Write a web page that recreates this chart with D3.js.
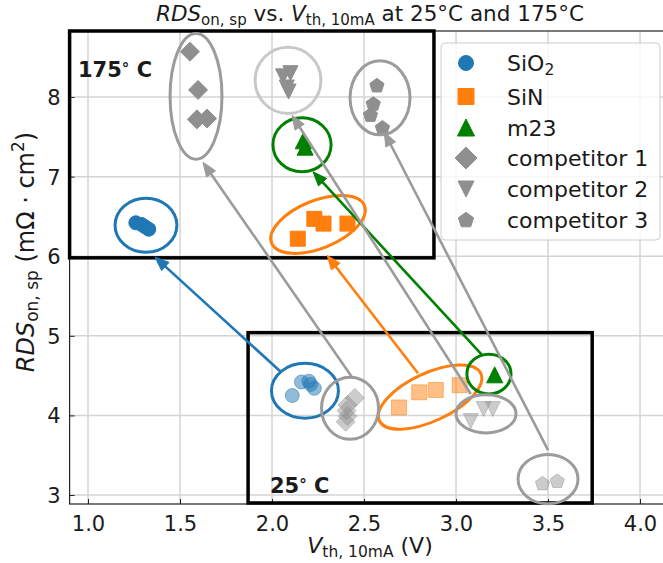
<!DOCTYPE html>
<html><head><meta charset="utf-8">
<script src="https://cdn.jsdelivr.net/npm/d3@7"></script>
<style>
body{margin:0;background:#fff}
svg{display:block}
text{font-family:"DejaVu Sans",sans-serif;fill:#1a1a1a}
</style>
</head><body>
<svg id="chart" width="663" height="563"></svg>
<script>
// Axis ticks
const xTicks = [1.0, 1.5, 2.0, 2.5, 3.0, 3.5, 4.0];
const yTicks = [3, 4, 5, 6, 7, 8];

// Measurements: [Vth,10mA (V), RDSon,sp (mΩ·cm²)]
const sio2Hot   = [[1.26, 6.42], [1.29, 6.40], [1.31, 6.37], [1.33, 6.34]];
const sio2Room  = [[2.11, 4.25], [2.16, 4.42], [2.20, 4.43], [2.21, 4.39], [2.23, 4.34]];
const sinHot    = [[2.14, 6.22], [2.23, 6.47], [2.28, 6.41], [2.41, 6.41]];
const sinRoom   = [[2.69, 4.10], [2.80, 4.29], [2.89, 4.32], [3.02, 4.38]];
const m23Hot    = [[2.17, 7.45], [2.18, 7.37]];
const m23Room   = [[3.21, 4.51]];
const comp1Hot  = [[1.554, 8.57], [1.598, 8.09], [1.592, 7.72], [1.647, 7.73]];
const comp1Room = [[2.45, 4.22], [2.41, 4.13], [2.405, 4.06], [2.41, 3.99], [2.40, 3.92]];
const comp2Hot  = [[2.06, 8.26], [2.10, 8.30], [2.08, 8.12], [2.09, 8.07]];
const comp2Room = [[3.08, 3.93], [3.15, 4.08], [3.20, 4.08]];
const comp3Hot  = [[2.57, 8.15], [2.55, 7.92], [2.535, 7.78], [2.60, 7.62]];
const comp3Room = [[3.47, 3.15], [3.55, 3.18]];

// Group outlines: [centre V, centre RDS, half-width V, half-height RDS, tilt deg]
const ringsHot = [
  [1.315, 6.39, 0.168, 0.34, 0],
  [2.25, 6.40, 0.272, 0.30, -22],
  [2.163, 7.40, 0.158, 0.339, 0],
  [1.587, 8.01, 0.141, 0.79, 0],
  [2.087, 8.21, 0.179, 0.415, 0],
  [2.587, 7.99, 0.163, 0.465, 0]
];
const ringsRoom = [
  [2.179, 4.31, 0.182, 0.345, 0],
  [2.859, 4.23, 0.304, 0.30, -25],
  [3.179, 4.52, 0.12, 0.25, 0],
  [2.424, 4.09, 0.155, 0.39, 0],
  [3.163, 4.02, 0.163, 0.24, 0],
  [3.50, 3.20, 0.163, 0.31, 0]
];
// 25 °C group -> 175 °C group shifts: [V0, R0, V1, R1]
const shifts = [
  [2.049, 4.545, 1.364, 5.99],
  [2.793, 4.53, 2.30, 6.01],
  [3.141, 4.76, 2.223, 7.06],
  [2.435, 4.48, 1.625, 7.18],
  [3.08, 4.27, 2.109, 7.77],
  [3.50, 3.565, 2.61, 7.56]
];
// Temperature windows: [V0, V1, R0, R1]
const hotWindow  = [0.9, 2.88, 5.98, 8.83];
const roomWindow = [1.87, 3.74, 2.90, 5.04];

const svg = d3.select("#chart");
const x = d3.scaleLinear().domain([0.9, 4.165]).range([69.6, 670.4]);
const y = d3.scaleLinear().domain([2.887, 8.83]).range([504, 31]);

// marker shapes; size = half-extent in px
const shapes = {
  circle: {draw(c, r){ c.moveTo(r, 0); c.arc(0, 0, r, 0, 2*Math.PI); c.closePath(); }},
  square: {draw(c, r){ c.rect(-r, -r, 2*r, 2*r); }},
  triUp: {draw(c, r){ c.moveTo(0, -r); c.lineTo(r, r); c.lineTo(-r, r); c.closePath(); }},
  triDown: {draw(c, r){ c.moveTo(0, r); c.lineTo(r, -r); c.lineTo(-r, -r); c.closePath(); }},
  diamond: {draw(c, r){ c.moveTo(0, -r); c.lineTo(r, 0); c.lineTo(0, r); c.lineTo(-r, 0); c.closePath(); }},
  pentagon: {draw(c, r){
    for (let i = 0; i < 5; i++) {
      const a = -Math.PI/2 + i*2*Math.PI/5;
      const px = r*Math.cos(a), py = r*Math.sin(a) + r*0.1;
      if (i === 0) c.moveTo(px, py); else c.lineTo(px, py);
    }
    c.closePath();
  }}
};

const series = [
  {name: "SiO2", color: "#1f77b4", shape: "circle", r: 7, hot: sio2Hot, room: sio2Room, ring: "#1f77b4", roomAlpha: 0.5},
  {name: "SiN", color: "#ff7f0e", shape: "square", r: 7.5, hot: sinHot, room: sinRoom, ring: "#ff7f0e", roomAlpha: 0.5},
  {name: "m23", color: "#008000", shape: "triUp", r: 8, hot: m23Hot, room: m23Room, ring: "#008000", roomAlpha: 1},
  {name: "competitor 1", color: "#8f8f8f", shape: "diamond", r: 9.5, hot: comp1Hot, room: comp1Room, ring: "#9b9b9b", roomAlpha: 0.45},
  {name: "competitor 2", color: "#8f8f8f", shape: "triDown", r: 7.5, hot: comp2Hot, room: comp2Room, ring: "#9b9b9b", ringHot: "#c8c8c8", roomAlpha: 0.45},
  {name: "competitor 3", color: "#8f8f8f", shape: "pentagon", r: 7.5, hot: comp3Hot, room: comp3Room, ring: "#9b9b9b", roomAlpha: 0.45}
];

const sym = (s, r) => d3.symbol().type(shapes[s]).size(r)();

// grid
const grid = svg.append("g").attr("stroke", "#d4d4d4").attr("stroke-width", 1.5);
grid.selectAll(".gx").data(xTicks).join("line")
  .attr("x1", d => x(d)).attr("x2", d => x(d)).attr("y1", y.range()[1]).attr("y2", y.range()[0]);
grid.selectAll(".gy").data(yTicks).join("line")
  .attr("y1", d => y(d)).attr("y2", d => y(d)).attr("x1", x.range()[0]).attr("x2", x.range()[1]);

// frame
svg.append("rect").attr("x", x.range()[0]).attr("y", y.range()[1])
  .attr("width", x.range()[1] - x.range()[0]).attr("height", y.range()[0] - y.range()[1])
  .attr("fill", "none").attr("stroke", "#222").attr("stroke-width", 1.2);

// axes with inward ticks
const xAxis = svg.append("g").attr("transform", `translate(0,${y.range()[0]})`)
  .call(d3.axisBottom(x).tickValues(xTicks).tickFormat(d3.format(".1f")).tickSizeInner(-5).tickSizeOuter(0).tickPadding(12));
const yAxis = svg.append("g").attr("transform", `translate(${x.range()[0]},0)`)
  .call(d3.axisLeft(y).tickValues(yTicks).tickFormat(d3.format("d")).tickSizeInner(-5).tickSizeOuter(0).tickPadding(9));
[xAxis, yAxis].forEach(a => {
  a.select(".domain").remove();
  a.selectAll(".tick line").attr("stroke", "#222");
  a.selectAll(".tick text").attr("font-size", 21).attr("font-family", "DejaVu Sans").attr("fill", "#1a1a1a");
});
xAxis.selectAll(".tick text").attr("dy", "0.71em");
yAxis.selectAll(".tick text").attr("dy", "0.36em");

// temperature windows
[hotWindow, roomWindow].forEach(b => {
  svg.append("rect").attr("x", x(b[0])).attr("y", y(b[3]))
    .attr("width", x(b[1]) - x(b[0])).attr("height", y(b[2]) - y(b[3]))
    .attr("fill", "none").attr("stroke", "#000").attr("stroke-width", 3.5);
});

// markers
const marks = svg.append("g");
series.forEach(s => {
  marks.append("g").selectAll("path").data(s.room).join("path")
    .attr("d", sym(s.shape, s.r))
    .attr("transform", d => `translate(${x(d[0])},${y(d[1])})`)
    .attr("fill", s.color).attr("fill-opacity", s.roomAlpha)
    .attr("stroke", s.color).attr("stroke-opacity", s.roomAlpha).attr("stroke-width", 1);
  marks.append("g").selectAll("path").data(s.hot).join("path")
    .attr("d", sym(s.shape, s.r))
    .attr("transform", d => `translate(${x(d[0])},${y(d[1])})`)
    .attr("fill", s.color).attr("stroke", s.color).attr("stroke-width", 1);
});

// group outlines
const kx = x(1) - x(0), ky = y(0) - y(1);
const rings = svg.append("g").attr("fill", "none").attr("stroke-width", 3);
series.forEach((s, i) => {
  [[ringsHot[i], s.ringHot || s.ring], [ringsRoom[i], s.ring]].forEach(([e, col]) => {
    rings.append("ellipse")
      .attr("transform", `translate(${x(e[0])},${y(e[1])}) rotate(${e[4]})`)
      .attr("rx", e[2]*kx).attr("ry", e[3]*ky).attr("stroke", col);
  });
});

// shift arrows
const arrows = svg.append("g");
series.forEach((s, i) => {
  const a = shifts[i];
  const x0 = x(a[0]), y0 = y(a[1]), x1 = x(a[2]), y1 = y(a[3]);
  const dx = x1 - x0, dy = y1 - y0, L = Math.hypot(dx, dy);
  const ux = dx / L, uy = dy / L, hl = 14, hw = 5.5;
  const bx = x1 - ux*hl, by = y1 - uy*hl;
  const col = s.color === "#8f8f8f" ? "#9b9b9b" : s.color;
  arrows.append("line").attr("x1", x0).attr("y1", y0).attr("x2", bx + ux*2).attr("y2", by + uy*2)
    .attr("stroke", col).attr("stroke-width", 2.6);
  arrows.append("path")
    .attr("d", `M${x1},${y1}L${bx - uy*hw},${by + ux*hw}L${bx + uy*hw},${by - ux*hw}Z`)
    .attr("fill", col).attr("stroke", col).attr("stroke-width", 1);
});

// temperature labels
const hotLbl = svg.append("text").attr("x", 78).attr("y", 77).attr("font-size", 21).attr("font-weight", "bold");
hotLbl.append("tspan").text("175");
hotLbl.append("tspan").attr("font-size", 15).attr("dy", -3).text("°");
hotLbl.append("tspan").attr("dy", 3).text(" C");
const roomLbl = svg.append("text").attr("x", 270).attr("y", 493).attr("font-size", 21).attr("font-weight", "bold");
roomLbl.append("tspan").text("25");
roomLbl.append("tspan").attr("font-size", 15).attr("dy", -3).text("°");
roomLbl.append("tspan").attr("dy", 3).text(" C");

// title
const title = svg.append("text").attr("x", 370).attr("y", 21).attr("text-anchor", "middle").attr("font-size", 21.5);
title.append("tspan").attr("font-style", "italic").text("RDS");
title.append("tspan").attr("font-size", 15).attr("dy", 4).text("on, sp");
title.append("tspan").attr("dy", -4).text(" vs. ");
title.append("tspan").attr("font-style", "italic").text("V");
title.append("tspan").attr("font-size", 15).attr("dy", 4).text("th, 10mA");
title.append("tspan").attr("dy", -4).text(" at 25°C and 175°C");

// x label
const xl = svg.append("text").attr("x", 370).attr("y", 553).attr("text-anchor", "middle").attr("font-size", 22);
xl.append("tspan").attr("font-style", "italic").text("V");
xl.append("tspan").attr("font-size", 15.5).attr("dy", 4).text("th, 10mA");
xl.append("tspan").attr("dy", -4).text(" (V)");

// y label
const yl = svg.append("text").attr("transform", "translate(34,252) rotate(-90)").attr("text-anchor", "middle").attr("font-size", 24);
yl.append("tspan").attr("font-style", "italic").text("RDS");
yl.append("tspan").attr("font-size", 17).attr("dy", 4).text("on, sp");
yl.append("tspan").attr("dy", -4).text(" (mΩ · cm");
yl.append("tspan").attr("font-size", 17).attr("dy", -10).text("2");
yl.append("tspan").attr("dy", 10).text(")");

// legend
const lg = svg.append("g");
lg.append("rect").attr("x", 441).attr("y", 43).attr("width", 219).attr("height", 197).attr("rx", 4)
  .attr("fill", "#fff").attr("fill-opacity", 0.8).attr("stroke", "#cccccc").attr("stroke-width", 1);
const rowY = [63, 96.5, 127.5, 158, 189, 219.5];
series.forEach((s, i) => {
  lg.append("path").attr("d", sym(s.shape, s.shape === "diamond" ? 11 : s.r + 0.5))
    .attr("transform", `translate(466,${rowY[i]})`).attr("fill", s.color).attr("stroke", s.color);
  const t = lg.append("text").attr("x", 507).attr("y", rowY[i] + 8).attr("font-size", 22);
  if (s.name === "SiO2") {
    t.append("tspan").text("SiO");
    t.append("tspan").attr("font-size", 15.5).attr("dy", 4).text("2");
  } else {
    t.text(s.name);
  }
});
</script>
</body></html>
